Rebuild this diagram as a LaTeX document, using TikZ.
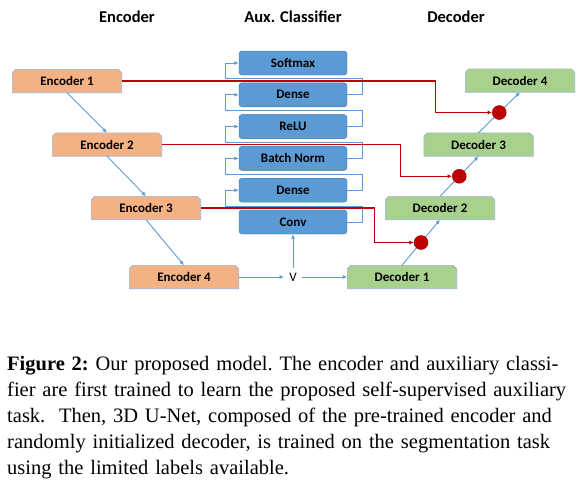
\documentclass[tikz,border=0pt]{standalone}
\usepackage{fontspec}
\setmainfont{Carlito}
\newfontfamily\capfont{Liberation Serif}
\usetikzlibrary{calc,positioning,arrows.meta,backgrounds}
\definecolor{encfill}{HTML}{F4B183}
\definecolor{decfill}{HTML}{A9D18E}
\definecolor{auxfill}{HTML}{5B9BD5}
\definecolor{auxline}{HTML}{41719C}
\definecolor{boxline}{HTML}{9AB4D4}
\definecolor{flowblue}{HTML}{5B9BD5}
\definecolor{skipred}{HTML}{C00000}
\definecolor{mergeline}{HTML}{8E0000}

\begin{document}
\begin{tikzpicture}[x=1pt, y=-1pt]
\tikzstyle{blk}=[rectangle, minimum width=109pt, minimum height=23pt, inner sep=0pt, font=\fontsize{13}{15}\selectfont\bfseries]
\tikzstyle{aux}=[draw=auxline, fill=auxfill, rounded corners=3pt, minimum width=108pt, minimum height=24pt, inner sep=0pt, node distance=31.8pt, font=\fontsize{13}{15}\selectfont\bfseries]
\tikzstyle{hdr}=[font=\fontsize{16.5}{20}\selectfont\bfseries]
\tikzstyle{snip}=[draw=boxline, line width=0.6pt]
\tikzstyle{flow}=[draw=flowblue, line width=0.9pt, -{Latex[length=4.5pt,width=4pt]}]
\tikzstyle{skip}=[draw=skipred, line width=1.1pt, -{Latex[length=4.5pt,width=4pt]}]
\tikzstyle{merge}=[circle, draw=mergeline, fill=skipred, minimum size=14pt, inner sep=0pt]
\useasboundingbox (0,0) rectangle (586,479);

% titles
\node[hdr] (hEnc) at (127,17) {Encoder};
\node[hdr] (hAux) at (293,17) {Aux. Classifier};
\node[hdr] (hDec) at (456,17) {Decoder};

% encoder
\node[blk] (enc1) at (67,81) {Encoder 1};
\node[blk, node distance=63.5pt, below of=enc1, xshift=40pt] (enc2) {Encoder 2};
\node[blk, node distance=63.5pt, below of=enc2, xshift=39pt] (enc3) {Encoder 3};
\node[blk, node distance=69pt, below of=enc3, xshift=38pt] (enc4) {Encoder 4};

% aux. classifier
\node[aux] (soft) at (293,63) {Softmax};
\node[aux, below of=soft] (dense1) {Dense};
\node[aux, below of=dense1] (relu) {ReLU};
\node[aux, below of=relu] (bn) {Batch Norm};
\node[aux, below of=bn] (dense2) {Dense};
\node[aux, below of=dense2] (conv) {Conv};
\node[font=\fontsize{13}{15}\selectfont, inner sep=5pt] (v) at (293,277) {V};

% decoder
\node[blk] (dec1) at (402,277) {Decoder 1};
\node[blk, node distance=69pt, above of=dec1, xshift=38pt] (dec2) {Decoder 2};
\node[blk, node distance=63.5pt, above of=dec2, xshift=38.5pt] (dec3) {Decoder 3};
\node[blk, node distance=64pt, above of=dec3, xshift=41.5pt] (dec4) {Decoder 4};

% snipped boxes behind the encoder/decoder labels
\begin{scope}[on background layer]
\foreach \n/\c in {enc1/encfill, enc2/encfill, enc3/encfill, enc4/encfill, dec1/decfill, dec2/decfill, dec3/decfill, dec4/decfill}
  \draw[snip, fill=\c] (\n.south west) -- ([yshift=-3.5pt]\n.north west) -- ([xshift=3.5pt]\n.north west)
    -- ([xshift=-3.5pt]\n.north east) -- ([yshift=-3.5pt]\n.north east) -- (\n.south east) -- cycle;
\end{scope}

\draw[flow] (enc1.south) -- (enc2.north);
\draw[flow] (enc2.south) -- (enc3.north);
\draw[flow] (enc3.south) -- (enc4.north);
\draw[flow] (enc4) -- (v);
\draw[flow] (v) -- (conv);
\draw[flow] (v) -- (dec1);
\foreach \a/\b in {conv/dense2, dense2/bn, bn/relu, relu/dense1, dense1/soft}
  \draw[flow] (\a.east) -- ++(15,0) |- ($(\a.north)!.5!(\b.south)$) -| ([xshift=-13pt]\b.west) -- (\b.west);
\draw[flow] (dec1.north) -- (dec2.south);
\draw[flow] (dec2.north) -- (dec3.south);
\draw[flow] (dec3.north) -- (dec4.south);

% skip connections
\node[merge] (m1) at ($(dec1.north)!.5!(dec2.south)$) {};
\node[merge] (m2) at ($(dec2.north)!.5!(dec3.south)$) {};
\node[merge] (m3) at ($(dec3.north)!.5!(dec4.south)$) {};
\draw[skip] (enc1.east) -- ++(314,0) |- (m3);
\draw[skip] (enc2.east) -- ++(239,0) |- (m2);
\draw[skip] (enc3.east) -- ++(173.5,0) |- (m1);

% caption
\node[anchor=north west, inner sep=0pt, text width=573pt, font=\capfont\fontsize{20.5}{26}\selectfont\frenchspacing] (cap) at (7,356) {%
\makebox[\linewidth][s]{\textbf{Figure 2:} Our proposed model. The encoder and auxiliary classi-}\\
\makebox[\linewidth][s]{fier are first trained to learn the proposed self-supervised auxiliary}\\
\makebox[\linewidth][s]{task.\ \ Then, 3D U-Net, composed of the pre-trained encoder and}\\
\makebox[\linewidth][s]{randomly initialized decoder, is trained on the segmentation task}\\
using the limited labels available.};
\end{tikzpicture}
\end{document}
